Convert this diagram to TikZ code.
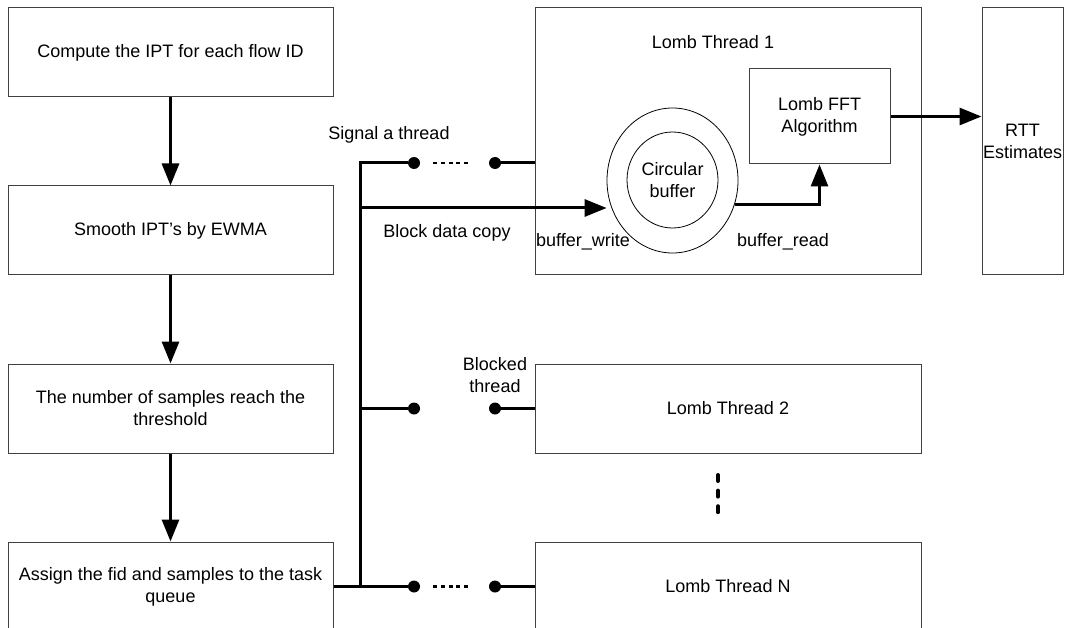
\documentclass[tikz,border=0pt]{standalone}
\usepackage{fontspec}
\setmainfont{Liberation Sans}
\usetikzlibrary{arrows.meta,calc,shapes.geometric}
\begin{document}
\begin{tikzpicture}[x=1pt,y=-1pt,
  font=\fontsize{18}{22}\selectfont,
  box/.style={draw=black!75, line width=1pt, inner sep=0pt, align=center},
  stepbox/.style={box, minimum width=325pt, minimum height=89pt},
  threadbox/.style={box, minimum width=386pt, minimum height=89pt},
  wire/.style={line width=3pt, line join=miter},
  flow/.style={wire, -{Triangle[length=22pt,width=17pt]}},
  dot/.style={circle, fill=black, inner sep=0pt, minimum size=12pt},
  gap/.style={line width=2.5pt, dash pattern=on 4pt off 3.75pt},
  lbl/.style={inner sep=0pt, align=center}]
\useasboundingbox (0,0) rectangle (1065,628);

% processing steps
\node[stepbox] (s1) at (170.5,52.5)  {Compute the IPT for each flow ID};
\node[stepbox] (s2) at (170.5,230.5) {Smooth IPT’s by EWMA};
\node[stepbox] (s3) at (170.5,408.5) {The number of samples reach the\\threshold};
\node[stepbox] (s4) at (170.5,586.5) {Assign the fid and samples to the task\\queue};
\draw[flow] (s1) -- (s2);
\draw[flow] (s2) -- (s3);
\draw[flow] (s3) -- (s4);

% worker threads
\node[box, minimum width=386pt, minimum height=267pt] (t1) at (728,141.5) {};
\node[lbl] (t1title) at (713,42) {Lomb Thread 1};
\node[threadbox] (t2) at (728,408.5) {Lomb Thread 2};
\node[threadbox] (tn) at (728,586.5) {Lomb Thread N};
\node[box, minimum width=81pt, minimum height=267pt] (rtt) at (1022.5,141.5) {RTT\\Estimates};
\node[box, minimum width=141pt, minimum height=95pt] (fft) at (819.5,116.5) {Lomb FFT\\Algorithm};
\node[ellipse, draw=black, line width=0.8pt, minimum width=131pt, minimum height=145pt, inner sep=0pt] (ring) at (672.5,180.5) {};
\node[ellipse, draw=black, line width=0.8pt, minimum width=91pt, minimum height=96pt, inner sep=0pt, align=center] (buf) at (672.5,180) {Circular\\buffer};

% dispatch bus
\coordinate (bt) at (360,163);
\coordinate (bb) at (360,586.5);
\coordinate (bc) at (360,208);
\node[dot] (d1a) at (414,163) {};
\node[dot] (d1b) at (495,163) {};
\node[dot] (d2a) at (414,408.5) {};
\node[dot] (d2b) at (495,408.5) {};
\node[dot] (d3a) at (414,586.5) {};
\node[dot] (d3b) at (495,586.5) {};

\draw[wire] (d1a) -- (bt) -- (bb);
\draw[wire] (s4.east) -- (d3a);
\draw[wire] (d2a) -- (d2a -| bt);
\draw[wire] (d1b) -- (d1b -| t1.west);
\draw[wire] (d2b) -- (t2);
\draw[wire] (d3b) -- (tn);
\draw[gap, shorten <=13pt, shorten >=21pt] (d1a) -- (d1b);
\draw[gap, shorten <=13pt, shorten >=21pt] (d3a) -- (d3b);

\draw[flow] (bc) -- (bc -| ring.west);
\draw[flow] (ring.-21) -| (fft.south);
\draw[flow] (fft.east) -- (fft.east -| rtt.west);

% more threads
\coordinate (v1) at (718,475);
\coordinate (v2) at (718,513);
\draw[line width=4pt, line cap=round, dash pattern=on 6pt off 9.6pt] (v1) -- (v2);

% labels
\node[lbl] (sig) at (389,135) {Signal a thread};
\node[lbl] (blk) at (447,233) {Block data copy};
\node[lbl] (bth) at (495,375) {Blocked\\thread};
\node[lbl] (bw) at (583,242) {buffer\_write};
\node[lbl] (br) at (783,242) {buffer\_read};
\end{tikzpicture}
\end{document}
